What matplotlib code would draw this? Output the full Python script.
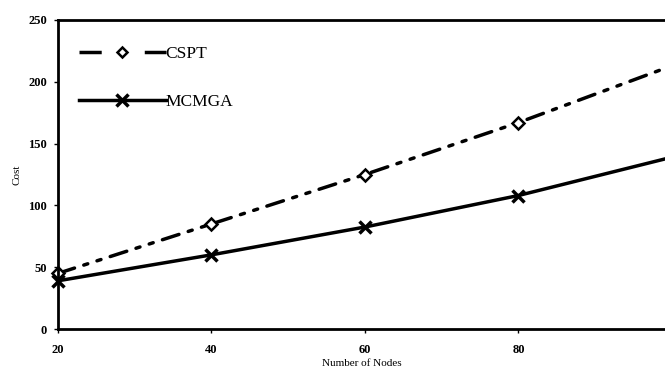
import numpy as np
import matplotlib
matplotlib.use("Agg")
import matplotlib.pyplot as plt
from matplotlib.lines import Line2D

plt.rcParams['font.family'] = ['Liberation Serif', 'DejaVu Serif']
plt.rcParams['lines.scale_dashes'] = False

# values
nodes = [20, 40, 60, 80, 100]
cspt = [45, 85, 125, 167, 213]
mcmga = [39, 60, 82.5, 108, 139]
xticks = [20, 40, 60, 80]
yticks = [0, 50, 100, 150, 200, 250]

fig = plt.figure(figsize=(6.65, 3.69), dpi=100)
ax = fig.add_axes([58 / 665, 40 / 369, 607 / 665, 309 / 369])

ax.plot(nodes, cspt, color='black', lw=2.5, linestyle=(0, (12.5, 7, 3, 7, 3, 7)),
        dash_capstyle='round',
        marker='D', markersize=6, markerfacecolor='white', markeredgecolor='black',
        markeredgewidth=1.8, markevery=[0, 1, 2, 3], clip_on=False)
ax.plot(nodes, mcmga, color='black', lw=2.5, linestyle='-',
        marker='x', markersize=9, markeredgewidth=2.5, markevery=[0, 1, 2, 3],
        clip_on=False)

ax.set_xlim(20, 99.1)
ax.set_ylim(0, 250)
ax.set_xticks(xticks)
ax.set_yticks(yticks)
ax.tick_params(labelsize=9, length=3, width=1)
ax.tick_params(axis='x', pad=8)
ax.tick_params(axis='y', pad=5)
for lab in ax.get_xticklabels() + ax.get_yticklabels():
    lab.set_fontweight('bold')

for s in ['left', 'bottom', 'top']:
    ax.spines[s].set_linewidth(2)
ax.spines['right'].set_visible(False)

ax.set_xlabel('Number of Nodes', fontsize=8, labelpad=2)
ax.set_ylabel('Cost', fontsize=8, labelpad=5)

# legend handles drawn as in the figure (dashed sample for CSPT)
h_cspt = Line2D([], [], color='black', lw=2.5, linestyle=(0, (16, 31)),
                marker='D', markersize=5.5, markerfacecolor='white',
                markeredgecolor='black', markeredgewidth=1.8)
h_mcmga = Line2D([], [], color='black', lw=2.5, linestyle='-',
                 marker='x', markersize=8, markeredgewidth=2.5)
ax.legend([h_cspt, h_mcmga], ['CSPT', 'MCMGA'], loc='upper left',
          bbox_to_anchor=(0.02, 0.945), frameon=False, borderpad=0,
          fontsize=12.5, handlelength=5.0, handletextpad=0.0, labelspacing=1.85,
          numpoints=1)

fig.savefig('out.png', dpi=100)
